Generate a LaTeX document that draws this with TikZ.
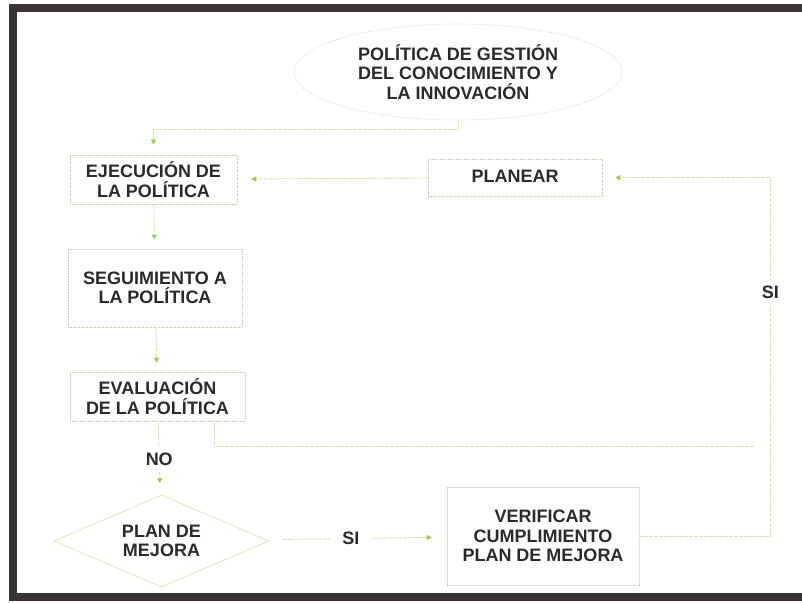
\documentclass[tikz,border=0pt]{standalone}
\usepackage{fontspec}
\setmainfont{Liberation Sans}
\usetikzlibrary{shapes.geometric,arrows.meta}

\definecolor{frameclr}{HTML}{3B3437}
\definecolor{lineclr}{HTML}{D8E2A4}
\definecolor{tipclr}{HTML}{9CCB4E}
\definecolor{boxclr}{HTML}{C9CDB4}
\definecolor{txtclr}{HTML}{2A2A2A}

\begin{document}
\begin{tikzpicture}[x=1pt,y=-1pt,
   every node/.style={font=\bfseries\fontsize{18}{19.5}\selectfont,text=txtclr,align=center},
   proc/.style={draw=boxclr,densely dotted,line width=0.6pt,inner sep=0pt},
   flow/.style={draw=lineclr,line width=0.9pt,dash pattern=on 4pt off 1pt,
      -{Triangle[length=5pt,width=5pt,color=tipclr]}},
   plain/.style={draw=lineclr,line width=0.9pt,dash pattern=on 4pt off 1pt},
   lbl/.style={fill=white,inner sep=6pt}]
   \useasboundingbox (0,0) rectangle (802,602);
   \fill[white] (0,0) rectangle (802,602);
   \draw[frameclr,line width=8pt] (13,8) rectangle (830,597);

   \node[ellipse,draw=boxclr,densely dotted,line width=0.6pt,minimum width=328pt,minimum height=96pt] (pol) at (458,72)
      {POLÍTICA DE GESTIÓN\\DEL CONOCIMIENTO Y\\LA INNOVACIÓN};
   \node[proc,minimum width=167pt,minimum height=49pt] (ejec) at (153.5,179.5) {EJECUCIÓN DE\\LA POLÍTICA};
   \node[proc,minimum width=174pt,minimum height=37pt] (plan) at (515,177.5) {\raisebox{3pt}{PLANEAR}};
   \node[proc,minimum width=174pt,minimum height=78pt] (seg) at (155,288) {SEGUIMIENTO A\\LA POLÍTICA};
   \node[proc,minimum width=175pt,minimum height=49pt] (eval) at (157.5,396.5) {EVALUACIÓN\\DE LA POLÍTICA};
   \node[diamond,aspect=2.34,draw=lineclr,line width=0.6pt,inner sep=0pt,
      minimum width=215pt,minimum height=92pt] (mejora) at (161.5,541) {PLAN DE\\MEJORA};
   \node[proc,minimum width=192pt,minimum height=98pt] (verif) at (543,536) {VERIFICAR\\CUMPLIMIENTO\\PLAN DE MEJORA};
   \coordinate (fin) at (754,446);

   \draw[flow,shorten >=10pt] (pol.south) -- ++(0,9) -| (ejec.north);
   \path[flow]
   (plan) edge [shorten >=14pt] (ejec)
   (ejec) edge [shorten >=9pt] (seg)
   (seg)  edge [shorten >=9pt] (eval)
   (eval) edge [shorten >=12pt] node[lbl,pos=0.52] {NO} (mejora)
   (mejora) edge [shorten <=17pt,shorten >=15pt] node[lbl,inner xsep=12pt,pos=0.47] {SI} (verif);
   \draw[plain] ([xshift=-31pt]eval.south east) |- (fin);
   \draw[flow,shorten >=13pt] (verif.east) -- ++(131,0) |- node[lbl,pos=0.34] {SI} (plan.east);
\end{tikzpicture}
\end{document}
